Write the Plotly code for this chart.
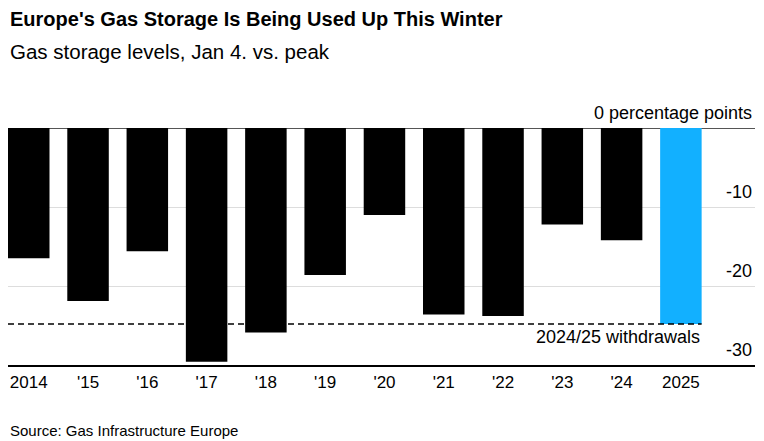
import plotly.graph_objects as go

# Gas storage level on Jan 4 vs. peak, percentage points
years = ['2014', "'15", "'16", "'17", "'18", "'19", "'20", "'21", "'22", "'23", "'24", '2025']
change = [-16.5, -21.9, -15.6, -29.6, -25.9, -18.6, -11.0, -23.6, -23.8, -12.2, -14.2, -24.8]
withdrawals_2425 = -24.8

tick_vals = [0, -10, -20, -30]
tick_text = ['0 percentage points', '-10', '-20', '-30']

FONT = 'Liberation Sans, Arial, sans-serif'
bar_colors = ['#000000'] * (len(years) - 1) + ['#12B0FF']
half_bar = 0.35

# the page body adds an 8px margin, so the figure is sized to fit the window
PLOT_TOP = 128      # page px of the zero line
PLOT_H = 237.0      # page px from 0 to -30

fig = go.Figure()

fig.add_trace(go.Bar(
    x=list(range(len(years))),
    y=change,
    marker=dict(color=bar_colors, line=dict(width=0)),
    width=2 * half_bar,
    hoverinfo='skip',
))

# dashed reference line for this winter's withdrawals
fig.add_shape(
    type='line', xref='x', yref='y',
    x0=-half_bar, x1=len(years) - 1 + half_bar,
    y0=withdrawals_2425, y1=withdrawals_2425,
    line=dict(color='#000000', width=1.5, dash='6px,4px'),
    layer='above',
)
fig.add_annotation(
    x=len(years) - 1 + half_bar, y=withdrawals_2425,
    xref='x', yref='y', xanchor='right', yanchor='top',
    text='2024/25 withdrawals', showarrow=False, yshift=-1,
    font=dict(family=FONT, size=18, color='#000000'),
)

# title, subtitle and source
fig.add_annotation(
    x=0, y=1 + (PLOT_TOP - 19) / PLOT_H, xref='paper', yref='paper',
    xanchor='left', yanchor='middle', showarrow=False,
    text='<b>Europe\'s Gas Storage Is Being Used Up This Winter</b>',
    font=dict(family=FONT, size=20, color='#000000'),
)
fig.add_annotation(
    x=0, y=1 + (PLOT_TOP - 51) / PLOT_H, xref='paper', yref='paper',
    xanchor='left', yanchor='middle', showarrow=False,
    text='Gas storage levels, Jan 4. vs. peak',
    font=dict(family=FONT, size=20.5, color='#000000'),
)
fig.add_annotation(
    x=0, y=-(430 - PLOT_TOP - PLOT_H) / PLOT_H, xref='paper', yref='paper',
    xanchor='left', yanchor='middle', showarrow=False,
    text='Source: Gas Infrastructure Europe',
    font=dict(family=FONT, size=15, color='#000000'),
)

fig.update_layout(
    width=756, height=433,
    margin=dict(l=0, r=9, t=120, b=76),
    paper_bgcolor='white', plot_bgcolor='white',
    showlegend=False,
    bargap=0.3,
    xaxis=dict(
        tickmode='array',
        tickvals=list(range(len(years))),
        ticktext=years,
        range=[-half_bar, 12.25],
        showgrid=False, zeroline=False,
        showline=True, linecolor='#000000', linewidth=1.5,
        ticks='', ticklabelstandoff=1,
        tickfont=dict(family=FONT, size=17, color='#000000'),
    ),
    yaxis=dict(
        side='right',
        range=[-30, 0],
        tickmode='array',
        tickvals=tick_vals,
        ticktext=tick_text,
        ticklabelposition='inside top',
        ticklabeloverflow='allow',
        ticklabelshift=-3,
        showgrid=True, gridcolor='#dddddd', gridwidth=1,
        zeroline=True, zerolinecolor='#555555', zerolinewidth=1,
        showline=False, ticks='',
        tickfont=dict(family=FONT, size=18, color='#000000'),
    ),
)

fig.write_html('out.html')
